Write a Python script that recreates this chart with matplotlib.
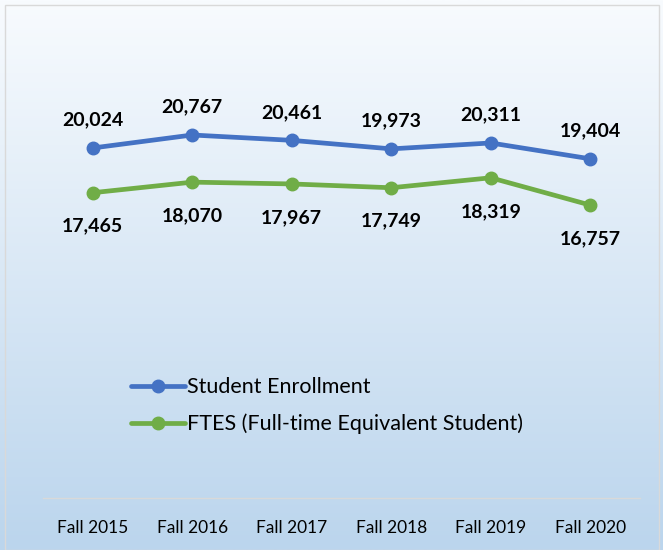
import numpy as np
import matplotlib.pyplot as plt
from matplotlib.patches import Rectangle

years = ["Fall 2015", "Fall 2016", "Fall 2017", "Fall 2018", "Fall 2019", "Fall 2020"]
enrollment = [20024, 20767, 20461, 19973, 20311, 19404]
ftes = [17465, 18070, 17967, 17749, 18319, 16757]

plt.rcParams['font.family'] = ['Lato', 'DejaVu Sans']

W, H = 663, 550
fig = plt.figure(figsize=(W / 100, H / 100), dpi=100)

# background gradient
bg = fig.add_axes([0, 0, 1, 1], zorder=0)
grad = np.linspace(0, 1, 256).reshape(-1, 1)
top = np.array([248, 251, 254]) / 255
bot = np.array([187, 213, 237]) / 255
img = top + (bot - top) * grad[:, :, None]
bg.imshow(img, aspect='auto', extent=[0, 1, 0, 1])
bg.add_patch(Rectangle((5 / W, 0.5 / H), 654 / W, (H - 5.5) / H, fill=False,
                       edgecolor='#D9D9D9', lw=1, transform=bg.transAxes))
bg.set_xlim(0, 1)
bg.set_ylim(0, 1)
bg.axis('off')

ax = fig.add_axes([43 / W, (H - 498) / H, 597 / W, (498 - 61) / H], zorder=1)
ax.patch.set_alpha(0)
x = np.arange(len(years))
blue = '#4472C4'
green = '#70AD47'
ax.plot(x, enrollment, color=blue, lw=3.4, marker='o', ms=9, label='Student Enrollment',
        solid_capstyle='round')
ax.plot(x, ftes, color=green, lw=3.4, marker='o', ms=9, label='FTES (Full-time Equivalent Student)',
        solid_capstyle='round')

for i in range(len(years)):
    ax.annotate(f"{enrollment[i]:,}", (x[i], enrollment[i]), xytext=(0, 14), textcoords='offset points',
                ha='center', va='bottom', fontsize=14, fontweight='bold', color='black')
    ax.annotate(f"{ftes[i]:,}", (x[i], ftes[i]), xytext=(0, -18), textcoords='offset points',
                ha='center', va='top', fontsize=14, fontweight='bold', color='black')

ax.set_xlim(-0.5, 5.5)
ax.set_ylim(0, 25000)
ax.set_xticks(x)
ax.set_xticklabels(years, fontsize=12.5)
ax.tick_params(axis='x', length=0, pad=16)
ax.set_yticks([])
for s in ['top', 'right', 'left']:
    ax.spines[s].set_visible(False)
ax.spines['bottom'].set_color('#D9D9D9')
ax.spines['bottom'].set_linewidth(1)

ax.legend(loc='upper left', bbox_to_anchor=(112 / W, 1 - 358 / H), bbox_transform=fig.transFigure,
          frameon=False, fontsize=15.5, handlelength=2.5, handletextpad=0.1, labelspacing=0.75)

fig.savefig('out.png', dpi=100)
